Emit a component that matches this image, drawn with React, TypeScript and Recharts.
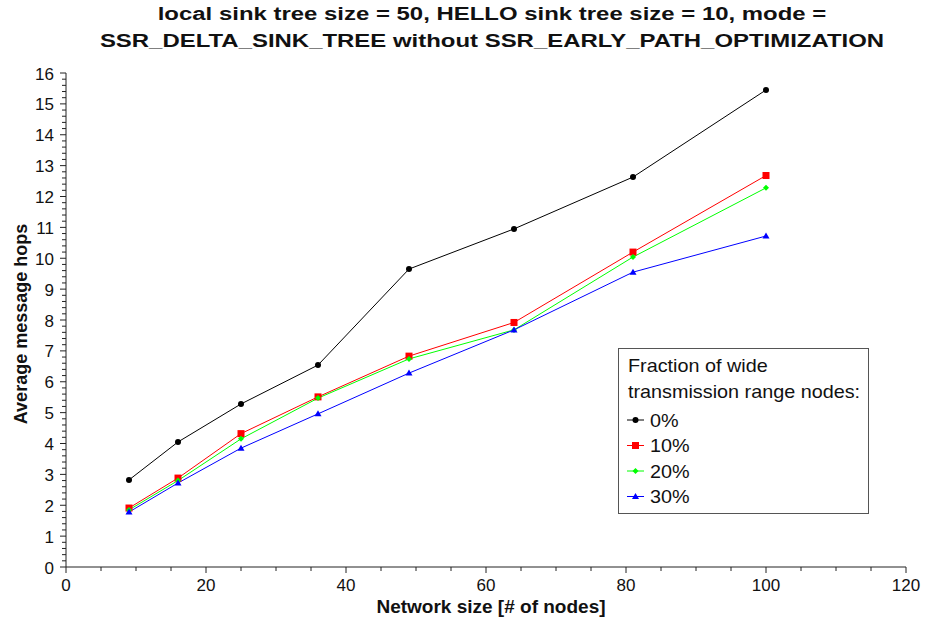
import React from 'react';
import { LineChart, Line, XAxis, YAxis, Legend } from 'recharts';

// network sizes (# of nodes) and average hop counts per wide-range fraction
const nodes = [9, 16, 25, 36, 49, 64, 81, 100];
const hops0 = [2.82, 4.05, 5.28, 6.54, 9.65, 10.95, 12.63, 15.45];
const hops10 = [1.91, 2.88, 4.32, 5.51, 6.83, 7.92, 10.2, 12.68];
const hops20 = [1.85, 2.8, 4.15, 5.47, 6.74, 7.68, 10.04, 12.28];
const hops30 = [1.78, 2.72, 3.85, 4.96, 6.28, 7.68, 9.55, 10.72];

const xMajorTicks = [0, 20, 40, 60, 80, 100, 120];
const yMajorTicks = [0, 1, 2, 3, 4, 5, 6, 7, 8, 9, 10, 11, 12, 13, 14, 15, 16];

const titleLines = [
  'local sink tree size = 50, HELLO sink tree size = 10, mode =',
  'SSR_DELTA_SINK_TREE without SSR_EARLY_PATH_OPTIMIZATION',
];
const legendTitle = ['Fraction of wide', 'transmission range nodes:'];

const FONT = '"Liberation Sans", Arial, Helvetica, sans-serif';

// minor ticks: 4 steps per x major (every 5), 5 steps per y unit (every 0.2)
const withMinor = (major: number[], parts: number) => {
  const out: number[] = [];
  for (let i = 0; i < major.length - 1; i++) {
    const step = (major[i + 1] - major[i]) / parts;
    for (let k = 0; k < parts; k++) out.push(Math.round((major[i] + k * step) * 1000) / 1000);
  }
  out.push(major[major.length - 1]);
  return out;
};
const xTicks = withMinor(xMajorTicks, 4);
const yTicks = withMinor(yMajorTicks, 5);

const data = nodes.map((n, i) => ({
  n,
  p0: hops0[i],
  p10: hops10[i],
  p20: hops20[i],
  p30: hops30[i],
}));

type Shape = 'circle' | 'square' | 'diamond' | 'triangle';

const Marker = ({ cx, cy, shape, color }: { cx: number; cy: number; shape: Shape; color: string }) => {
  if (shape === 'circle') return <circle cx={cx} cy={cy} r={3} fill={color} />;
  if (shape === 'square') return <rect x={cx - 3.5} y={cy - 3.5} width={7} height={7} fill={color} />;
  if (shape === 'diamond')
    return <polygon points={`${cx},${cy - 3} ${cx + 3},${cy} ${cx},${cy + 3} ${cx - 3},${cy}`} fill={color} />;
  return <polygon points={`${cx},${cy - 3.5} ${cx + 3.5},${cy + 2.5} ${cx - 3.5},${cy + 2.5}`} fill={color} />;
};

const series = [
  { key: 'p0', name: '0%', color: '#000000', shape: 'circle' as Shape },
  { key: 'p10', name: '10%', color: '#ff0000', shape: 'square' as Shape },
  { key: 'p20', name: '20%', color: '#00ff00', shape: 'diamond' as Shape },
  { key: 'p30', name: '30%', color: '#0000ff', shape: 'triangle' as Shape },
];

// text stretched horizontally around its anchor point
const WideText = ({ x, y, sx, children, ...rest }: any) => (
  <text transform={`translate(${x} ${y}) scale(${sx} 1)`} x={0} y={0} fontFamily={FONT} fill="#111" {...rest}>
    {children}
  </text>
);

const XTick = (props: any) => {
  const { x, y, payload } = props;
  const major = xMajorTicks.includes(payload.value);
  return (
    <g>
      <line x1={x} x2={x} y1={y} y2={y + (major ? 6 : 4)} stroke="#222" />
      {major && (
        <text x={x} y={y + 24} textAnchor="middle" fontSize={17} fontFamily={FONT} fill="#111">
          {payload.value}
        </text>
      )}
    </g>
  );
};

const YTick = (props: any) => {
  const { x, y, payload } = props;
  const major = yMajorTicks.includes(payload.value);
  return (
    <g>
      <line x1={x} x2={x - (major ? 6 : 4)} y1={y} y2={y} stroke="#222" />
      {major && (
        <text x={x - 12} y={y + 6.5} textAnchor="end" fontSize={17} fontFamily={FONT} fill="#111">
          {payload.value}
        </text>
      )}
    </g>
  );
};

const LegendBox = () => (
  <svg width={251} height={166} style={{ display: 'block' }}>
    <rect x={0.5} y={0.5} width={250} height={165} fill="#fff" stroke="#555" />
    {legendTitle.map((t, i) => (
      <WideText key={t} x={10} y={24 + i * 26} sx={1.1} fontSize={18}>
        {t}
      </WideText>
    ))}
    {series.map((s, i) => {
      const cy = 72 + i * 25.5;
      return (
        <g key={s.key}>
          <line x1={9} x2={26} y1={cy} y2={cy} stroke={s.color} />
          <Marker cx={17.5} cy={cy} shape={s.shape} color={s.color} />
          <WideText x={32} y={cy + 6.5} sx={1.1} fontSize={18}>
            {s.name}
          </WideText>
        </g>
      );
    })}
  </svg>
);

export default function App() {
  return (
    <div style={{ position: 'absolute', left: 0, top: 0, width: 928, height: 622, background: '#fff' }}>
      <LineChart
        width={928}
        height={622}
        data={data}
        margin={{ top: 73, right: 22, left: 0, bottom: 0 }}
        style={{ position: 'absolute', left: 0, top: 0 }}
      >
        <XAxis
          dataKey="n"
          type="number"
          domain={[0, 120]}
          ticks={xTicks}
          interval={0}
          height={55}
          tickSize={0}
          tickMargin={0}
          tickLine={false}
          tick={<XTick />}
          axisLine={{ stroke: '#222' }}
          label={(p: any) => {
            const vb = p.viewBox;
            return (
              <text
                x={vb.x + vb.width / 2 + 5}
                y={vb.y + vb.height - 9}
                textAnchor="middle"
                fontSize={19}
                fontWeight="bold"
                fontFamily={FONT}
                fill="#111"
              >
                Network size [# of nodes]
              </text>
            );
          }}
        />
        <YAxis
          type="number"
          domain={[0, 16]}
          ticks={yTicks}
          interval={0}
          width={66}
          tickSize={0}
          tickMargin={0}
          tickLine={false}
          tick={<YTick />}
          axisLine={{ stroke: '#222' }}
          label={(p: any) => {
            const vb = p.viewBox;
            const cx = 27;
            const cy = vb.y + vb.height / 2 + 4;
            return (
              <text
                x={cx}
                y={cy}
                transform={`rotate(-90 ${cx} ${cy})`}
                textAnchor="middle"
                fontSize={18}
                fontWeight="bold"
                fontFamily={FONT}
                fill="#111"
              >
                Average message hops
              </text>
            );
          }}
        />
        <Legend
          layout="horizontal"
          verticalAlign="middle"
          align="center"
          content={<LegendBox />}
          wrapperStyle={{ left: 618, top: 348, width: 251 }}
        />
        {series.map((s) => (
          <Line
            key={s.key}
            dataKey={s.key}
            name={s.name}
            type="linear"
            stroke={s.color}
            strokeWidth={1}
            isAnimationActive={false}
            dot={(dp: any) => <Marker key={`${s.key}-${dp.index}`} cx={dp.cx} cy={dp.cy} shape={s.shape} color={s.color} />}
            activeDot={false}
          />
        ))}
      </LineChart>
      <svg width={928} height={60} style={{ position: 'absolute', left: 0, top: 0 }}>
        {titleLines.map((t, i) => (
          <WideText key={t} x={492} y={20 + i * 27} sx={1.26} fontSize={19} fontWeight="bold" textAnchor="middle">
            {t}
          </WideText>
        ))}
      </svg>
    </div>
  );
}
